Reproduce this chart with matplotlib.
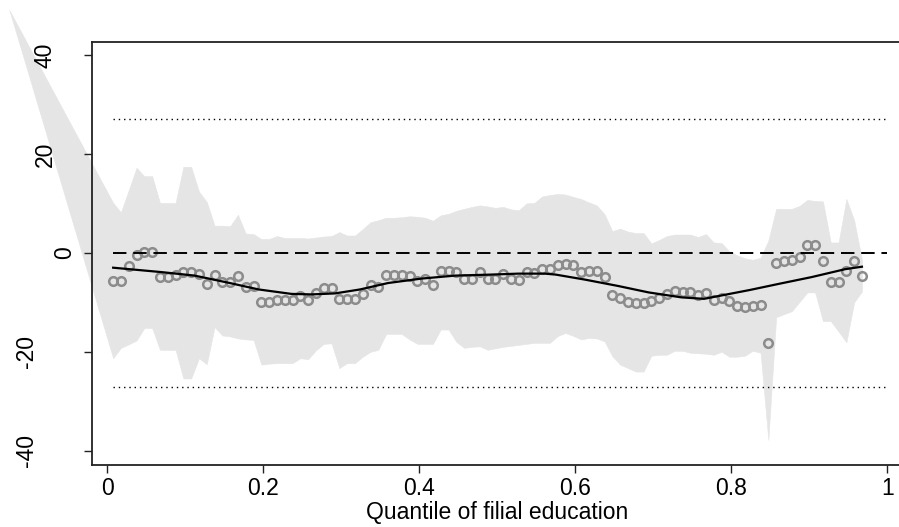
import numpy as np
import matplotlib
matplotlib.use("Agg")
import matplotlib.pyplot as plt
from matplotlib.transforms import ScaledTranslation

plt.rcParams['font.family'] = ['Liberation Sans', 'DejaVu Sans']

# ---------------- data ----------------
# quantile positions of the estimates
quantiles = np.arange(1, 98) / 100 - 0.0025

estimates = [
    -5.6, -5.6, -2.6, -0.4, 0.2, 0.2, -4.8, -4.8, -4.5, -3.8,
    -3.9, -4.3, -6.2, -4.5, -5.8, -5.8, -4.6, -6.9, -6.8, -10.0,
    -10.0, -9.5, -9.6, -9.6, -8.8, -9.5, -8.1, -7.1, -7.1, -9.3,
    -9.3, -9.4, -8.4, -6.6, -7.0, -4.5, -4.4, -4.4, -4.7, -5.6,
    -5.3, -6.4, -3.7, -3.6, -3.9, -5.3, -5.3, -3.9, -5.2, -5.2,
    -4.2, -5.2, -5.4, -3.9, -4.0, -3.2, -3.2, -2.4, -2.2, -2.5,
    -3.9, -3.7, -3.7, -4.9, -8.6, -9.1, -10.0, -10.2, -10.1, -9.7,
    -9.1, -8.4, -7.7, -8.0, -8.0, -8.5, -8.1, -9.6, -9.2, -9.7,
    -10.8, -10.9, -10.7, -10.5, -18.2, -2.1, -1.6, -1.5, -0.8, 1.5,
    1.5, -1.6, -5.9, -5.9, -3.7, -1.7, -4.7,
]

ci_upper = [
    10.1, 8.2, 12.7, 17.2, 15.5, 15.5, 10.1, 10.1, 10.1, 17.4,
    17.4, 12.4, 10.3, 5.5, 5.5, 5.4, 7.7, 3.9, 3.8, 2.8,
    2.8, 3.4, 3.0, 3.0, 3.0, 2.9, 3.1, 3.3, 3.4, 4.2,
    3.5, 3.5, 4.8, 6.2, 6.6, 7.1, 7.1, 7.2, 7.4, 7.3,
    7.1, 6.5, 7.6, 7.9, 8.5, 8.9, 9.3, 9.6, 9.4, 9.1,
    9.3, 8.8, 8.6, 10.0, 10.1, 11.4, 11.7, 11.9, 11.8, 11.3,
    10.9, 10.2, 9.6, 7.8, 4.4, 4.9, 4.3, 4.0, 4.0, 1.9,
    2.6, 3.4, 3.7, 3.7, 3.7, 3.2, 3.8, 2.1, 2.0, 0.3,
    -0.5, -1.1, -1.4, -1.0, 2.5, 8.9, 8.9, 8.9, 9.5, 10.7,
    10.5, 10.4, 2.1, 2.1, 10.9, 6.6, -1.4,
]

ci_lower = [
    -21.3, -19.2, -18.5, -17.7, -15.2, -15.2, -19.6, -19.6, -19.6, -25.4,
    -25.4, -21.3, -22.5, -15.0, -16.7, -16.9, -17.3, -17.5, -17.6, -22.6,
    -22.4, -22.3, -22.3, -22.3, -21.3, -21.5, -19.7, -18.4, -18.3, -23.3,
    -22.3, -22.3, -21.0, -20.0, -19.6, -16.4, -16.4, -16.4, -17.5, -18.4,
    -18.4, -18.4, -15.5, -15.5, -18.0, -19.2, -19.0, -18.9, -19.6, -19.3,
    -19.0, -18.8, -18.6, -18.4, -18.2, -18.2, -18.2, -16.8, -16.2, -16.8,
    -17.5, -17.2, -17.3, -17.9, -20.9, -22.6, -23.3, -24.0, -24.0, -20.8,
    -20.6, -20.6, -19.8, -19.8, -20.2, -20.3, -20.4, -20.6, -20.0, -21.0,
    -21.0, -20.8, -19.8, -20.2, -37.8, -13.0, -12.4, -11.8, -9.9, -8.0,
    -8.0, -13.8, -13.8, -15.9, -18.1, -10.0, -7.8,
]

# extrapolated left vertex of the confidence band (outside the plot region)
band_tip_x = -0.1256
band_tip_y = 49.1

# smoothed fit
smooth_x = [0.0075, 0.07, 0.112, 0.157, 0.194, 0.236, 0.262, 0.292, 0.324, 0.36,
            0.403, 0.446, 0.491, 0.527, 0.561, 0.575, 0.612, 0.655, 0.694, 0.736,
            0.765, 0.824, 0.86, 0.903, 0.946, 0.9675]
smooth_y = [-3.0, -3.9, -4.6, -6.1, -7.4, -8.3, -8.4, -8.2, -7.4, -6.1,
            -5.2, -4.6, -4.4, -4.2, -4.2, -4.4, -5.4, -6.7, -8.0, -9.0,
            -9.3, -7.5, -6.3, -4.9, -3.3, -2.8]

ref_zero = 0.0
ref_bounds = [27.1, -27.1]
ref_line_end = 1.0

xticks = [0, 0.2, 0.4, 0.6, 0.8, 1]
xticklabels = ['0', '0.2', '0.4', '0.6', '0.8', '1']
yticks = [-40, -20, 0, 20, 40]
yticklabels = ['-40', '-20', '0', '20', '40']
xlabel = 'Quantile of filial education'

# ---------------- figure ----------------
W, H = 899, 527
fig = plt.figure(figsize=(W / 100, H / 100), dpi=100)
ax_left, ax_right, ax_top, ax_bottom = 91.7, 899.0, 41.7, 465.0
ax = fig.add_axes([ax_left / W, 1 - ax_bottom / H,
                   (ax_right - ax_left) / W, (ax_bottom - ax_top) / H])

xmin, xmax = -0.0200, 1.0150
ymin, ymax = -42.9, 42.7
ax.set_xlim(xmin, xmax)
ax.set_ylim(ymin, ymax)

band_x = np.concatenate([[band_tip_x], quantiles])
band_hi = np.concatenate([[band_tip_y], ci_upper])
band_lo = np.concatenate([[band_tip_y], ci_lower])
ax.fill_between(band_x, band_lo, band_hi, color='#e5e5e5', lw=0.4,
                edgecolor='#e5e5e5', clip_on=False, zorder=1)

x0 = quantiles[0]
for b in ref_bounds:
    ax.plot([x0, ref_line_end], [b, b], color='black', lw=1.0,
            dashes=(1.0, 2.8), zorder=2)

ax.plot(quantiles, estimates, ls='none', marker='o', ms=6.2, mew=1.8,
        mfc='none', mec='#8c8c8c', zorder=3)

ax.plot([x0, ref_line_end], [ref_zero, ref_zero], color='black', lw=1.4,
        dashes=(6.9, 3.5), zorder=4)

ax.plot(smooth_x, smooth_y, color='black', lw=1.6, zorder=5)

# spines
for s in ['left', 'bottom', 'top']:
    ax.spines[s].set_color('#222222')
    ax.spines[s].set_linewidth(1.3)
ax.spines['right'].set_visible(False)

ax.set_xticks(xticks)
ax.set_xticklabels(xticklabels, fontsize=16.5)
ax.set_yticks(yticks)
ax.set_yticklabels(yticklabels, fontsize=16.5, rotation=90, va='center', ha='center')
ax.tick_params(axis='x', direction='out', length=6, width=1.0, color='#222222', pad=2.5)
ax.tick_params(axis='y', direction='out', length=6, width=1.0, color='#222222', pad=0)

# y tick label horizontal positions (in pixels relative to anchor)
offsets = {'0': -18.6, '20': -38.3, '40': -38.3, '-20': -56.8, '-40': -56.8}
for lab in ax.get_yticklabels():
    dx = offsets.get(lab.get_text(), -38.0)
    lab.set_transform(lab.get_transform() + ScaledTranslation(dx / 100, 0, fig.dpi_scale_trans))

ax.set_xlabel(xlabel, fontsize=16.5, labelpad=0.5)
ax.xaxis.label.set_x((0.5 - xmin) / (xmax - xmin))

fig.savefig('out.png', dpi=100)
